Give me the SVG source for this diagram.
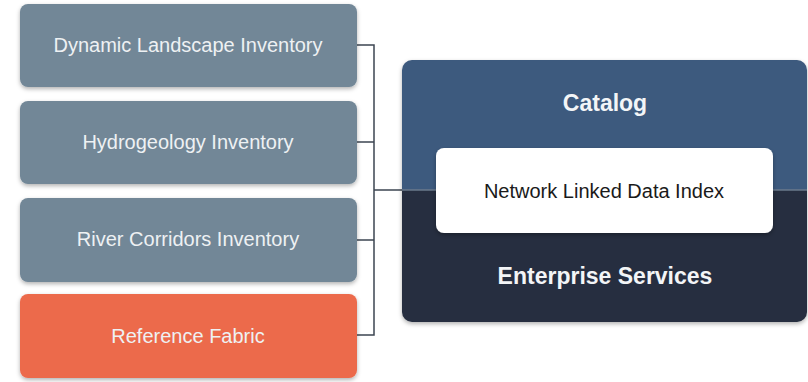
<svg xmlns="http://www.w3.org/2000/svg" width="808" height="382" viewBox="0 0 808 382">
<defs>
<filter id="sh" x="-10%" y="-10%" width="120%" height="130%">
<feDropShadow dx="0" dy="2" stdDeviation="2" flood-color="#000" flood-opacity="0.3"/>
</filter>
<clipPath id="rc"><rect x="402" y="60" width="405" height="262" rx="10"/></clipPath>
</defs>
<style>
.gb{fill:#728797}
.ob{fill:#ec6a4c}
.lt{font-family:"Liberation Sans",Arial,sans-serif;font-size:20px;fill:#eef1f3;text-anchor:middle}
.bt{font-family:"Liberation Sans",Arial,sans-serif;font-size:23px;font-weight:bold;fill:#f3f5f7;text-anchor:middle}
.wt{font-family:"Liberation Sans",Arial,sans-serif;font-size:20px;fill:#1a1a1a;text-anchor:middle}
.cn{fill:none;stroke:#3d4652;stroke-width:1.5}
</style>
<rect width="808" height="382" fill="#ffffff"/>
<g id="connectors">
<path class="cn" d="M357 45 H374 V335 H357 M357 142 H374 M357 240 H374 M374 190 H436"/>
</g>
<g id="dynamic-landscape-inventory">
<rect class="gb" x="20" y="4" width="337" height="83" rx="8" filter="url(#sh)"/>
<text class="lt" x="188" y="52">Dynamic Landscape Inventory</text>
</g>
<g id="hydrogeology-inventory">
<rect class="gb" x="20" y="101" width="337" height="83" rx="8" filter="url(#sh)"/>
<text class="lt" x="188" y="149">Hydrogeology Inventory</text>
</g>
<g id="river-corridors-inventory">
<rect class="gb" x="20" y="198" width="337" height="84" rx="8" filter="url(#sh)"/>
<text class="lt" x="188" y="246">River Corridors Inventory</text>
</g>
<g id="reference-fabric">
<rect class="ob" x="20" y="294" width="337" height="84" rx="8" filter="url(#sh)"/>
<text class="lt" x="188" y="343">Reference Fabric</text>
</g>
<g id="catalog-services" filter="url(#sh)">
<g clip-path="url(#rc)">
<rect x="402" y="60" width="405" height="130" fill="#3e5a7e"/>
<rect x="402" y="190" width="405" height="132" fill="#262f3f"/>
<line x1="402" y1="190" x2="807" y2="190" stroke="#6b7a8c" stroke-width="1.5"/>
</g>
</g>
<g id="catalog">
<text class="bt" x="605" y="111">Catalog</text>
</g>
<g id="enterprise-services">
<text class="bt" x="605" y="284">Enterprise Services</text>
</g>
<g id="network-linked-data-index">
<rect x="436" y="148" width="337" height="85" rx="8" fill="#ffffff" filter="url(#sh)"/>
<text class="wt" x="604" y="198">Network Linked Data Index</text>
</g>
</svg>
